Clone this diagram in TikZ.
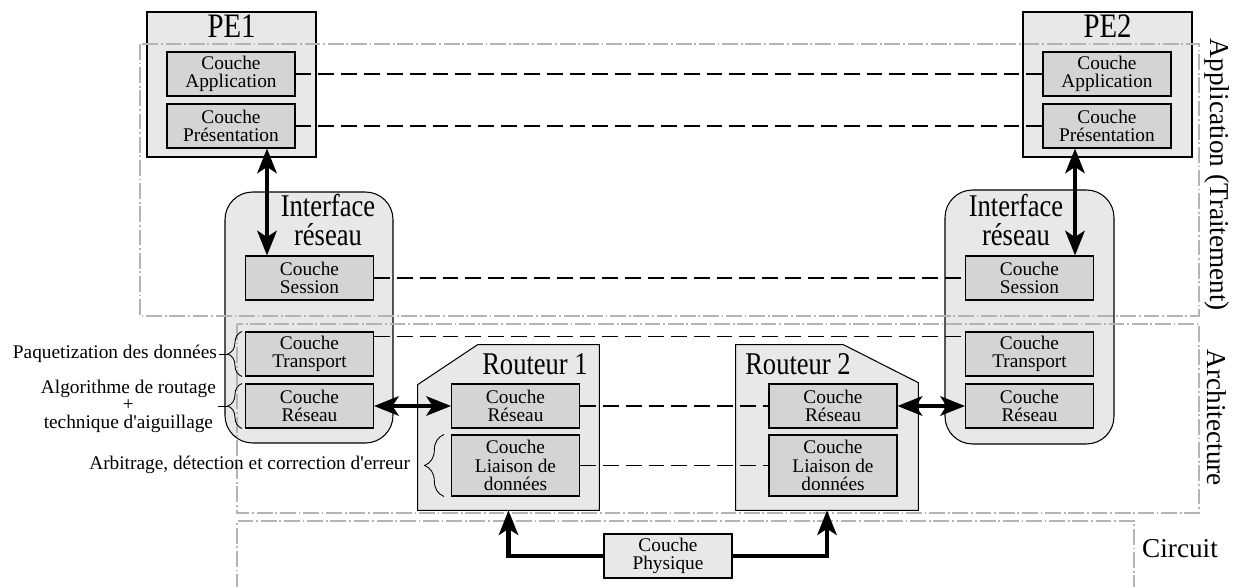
\documentclass[tikz,border=0pt]{standalone}
\usepackage{fontspec}
\setmainfont{Liberation Serif}
\newfontfamily\titlefont[FakeStretch=0.84]{Liberation Serif}
\usetikzlibrary{arrows.meta, decorations.pathreplacing, calc}
\definecolor{boxfill}{RGB}{232,232,232}
\definecolor{layerfill}{RGB}{212,212,212}
\definecolor{zonegray}{RGB}{180,180,180}

\tikzset{
  outer/.style={draw, fill=boxfill, line width=0.6pt},
  layer/.style={draw, fill=layerfill, line width=0.6pt, minimum width=2.56cm, minimum height=0.88cm, inner sep=0pt, align=center, font=\rmfamily\fontsize{11}{10.5}\selectfont},
  router/.style={minimum width=3.62cm, minimum height=3.3cm, inner sep=0pt},
  title/.style={font=\titlefont\fontsize{18}{17}\selectfont, inner sep=0pt, align=center},
  zone/.style={draw=zonegray, line width=0.7pt, dash pattern=on 9pt off 1.6pt on 1pt off 1.6pt},
  zonelabel/.style={font=\rmfamily\fontsize{15.5}{18}\selectfont},
  peer/.style={line width=0.8pt, dash pattern=on 9pt off 4pt},
  bus/.style={line width=2.4pt},
  note/.style={font=\rmfamily\fontsize{11}{10}\selectfont, inner sep=1pt, align=center},
  curly/.style={decorate, decoration={brace, amplitude=#1}, line width=0.5pt},
  >={Stealth[length=14pt, width=11pt, inset=3.5pt]},
}

\begin{document}
\begin{tikzpicture}[x=0.02cm, y=-0.02cm]
  \useasboundingbox (0,0) rectangle (1238,587);
  % outer boxes
  \node[outer, minimum width=3.38cm, minimum height=2.9cm] (pe1) at (231.5,84.5) {};
  \node[outer, minimum width=3.38cm, minimum height=2.9cm] (pe2) at (1107.5,84.5) {};
  \node[outer, rounded corners=0.55cm, minimum width=3.36cm, minimum height=5.02cm] (ir1) at (309,317.5) {};
  \node[outer, rounded corners=0.55cm, minimum width=3.38cm, minimum height=5.08cm] (ir2) at (1029.5,317) {};
  \node[router] (r1) at (508.5,427.5) {};
  \node[router, minimum width=3.64cm] (r2) at (827,427.5) {};
  \filldraw[outer] (r1.south west) -- ($(r1.north west)+(0,40)$) -- ($(r1.north west)+(60,0)$)
    -- (r1.north east) -- (r1.south east) -- cycle;
  \filldraw[outer] (r2.south west) -- (r2.north west) -- ($(r2.north east)+(-75,0)$)
    -- ($(r2.north east)+(0,38)$) -- (r2.south east) -- cycle;
  % zones
  \draw[zone] (140,44) rectangle (1199,316);
  \draw[zone] (237,324) rectangle (1199,513);
  \draw[zone] (237,590) -- (237,521) -- (1134,521) -- (1134,590);
  \node[zonelabel, rotate=-90] (zapp) at (1217,175) {Application (Traitement)};
  \node[zonelabel, rotate=-90] (zarc) at (1217,418) {Architecture};
  \node[zonelabel, anchor=west] (zcir) at (1136,549) {Circuit};
  % layers
  \node[layer] (app1) at (231,74) {Couche\\Application};
  \node[layer] (pres1) at (231,126) {Couche\\Présentation};
  \node[layer] (app2) at (1107,74) {Couche\\Application};
  \node[layer] (pres2) at (1107,126) {Couche\\Présentation};
  \node[layer] (ses1) at (309.5,278) {Couche\\Session};
  \node[layer] (tra1) at (309.5,354) {Couche\\Transport};
  \node[layer] (res1) at (309.5,406) {Couche\\Réseau};
  \node[layer] (ses2) at (1029.5,278) {Couche\\Session};
  \node[layer] (tra2) at (1029.5,354) {Couche\\Transport};
  \node[layer] (res2) at (1029.5,406) {Couche\\Réseau};
  \node[layer] (rres1) at (515.5,406) {Couche\\Réseau};
  \node[layer, minimum height=1.22cm] (lia1) at (515.5,465.5) {Couche\\Liaison de\\données};
  \node[layer] (rres2) at (833,406) {Couche\\Réseau};
  \node[layer, minimum height=1.22cm] (lia2) at (833,465.5) {Couche\\Liaison de\\données};
  \node[layer, fill=boxfill] (phy) at (668,556) {Couche\\Physique};
  % titles
  \node[title, anchor=base, font=\titlefont\fontsize{19.5}{17}\selectfont] (pe1t) at (231.5,38) {PE1};
  \node[title, anchor=base, font=\titlefont\fontsize{19.5}{17}\selectfont] (pe2t) at (1107.5,38) {PE2};
  \node[title] (ir1t) at (328,220) {Interface\\réseau};
  \node[title] (ir2t) at (1016,220) {Interface\\réseau};
  \node[title, anchor=base] (r1t) at (535,375) {Routeur 1};
  \node[title, anchor=base] (r2t) at (798,375) {Routeur 2};
  % peer to peer
  \draw[peer] (app1) -- (app2);
  \draw[peer] (pres1) -- (pres2);
  \draw[peer] (ses1) -- (ses2);
  \draw[peer] ([yshift=-0.1cm]tra1.north east) -- ([yshift=-0.1cm]tra2.north west);
  \draw[peer] (rres1) -- (rres2);
  \draw[peer] (lia1) -- (lia2);
  % links
  \coordinate (a1) at (267,0);
  \coordinate (a2) at (1075,0);
  \draw[bus, <->] (pres1.south -| a1) -- (ses1.north -| a1);
  \draw[bus, <->] (pres2.south -| a2) -- (ses2.north -| a2);
  \draw[bus, <->] (res1) -- (rres1);
  \draw[bus, <->] (rres2) -- (res2);
  \draw[bus, ->] (phy.west) -| (r1.south);
  \draw[bus, ->] (phy.east) -| (r2.south);
  % notes
  \draw[curly=8pt] ([xshift=-0.06cm]tra1.south west) -- ([xshift=-0.06cm]tra1.north west);
  \draw[curly=8pt] ([xshift=-0.06cm]res1.south west) -- ([xshift=-0.06cm]res1.north west);
  \draw[curly=11pt] ([xshift=-0.14cm]lia1.south west) -- ([xshift=-0.14cm]lia1.north west);
  \coordinate (paqtip) at ($(tra1.west)+(-17,0)$);
  \coordinate (algtip) at ($(res1.west)+(-17,0)$);
  \node[note, anchor=east] (paq) at (219,354) {Paquetization des données};
  \node[note, anchor=east] (alg) at (218,406) {Algorithme de routage\\+\\technique d\textquotesingle aiguillage};
  \node[note, anchor=east] (arb) at (412,465) {Arbitrage, détection et correction d\textquotesingle erreur};
  \draw (paq.east) -- (paqtip);
  \draw (alg.east) -- (algtip);
\end{tikzpicture}
\end{document}
